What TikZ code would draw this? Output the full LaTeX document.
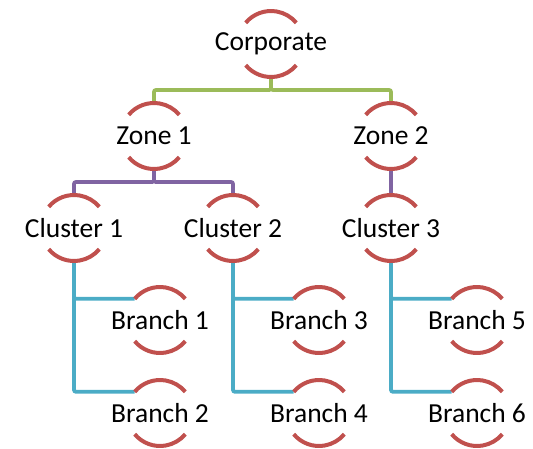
\documentclass[tikz,border=0pt]{standalone}
\usepackage{fontspec}
\setmainfont{Carlito}
\usetikzlibrary{positioning}
\definecolor{arcred}{HTML}{C0504D}
\definecolor{lvlgreen}{HTML}{9BBB59}
\definecolor{lvlpurple}{HTML}{8064A2}
\definecolor{lvlcyan}{HTML}{4BACC6}

\begin{document}
\begin{tikzpicture}[x=1pt,y=1pt,on grid,
    halfcirc/.style={circle,minimum size=66pt,inner sep=0pt,outer sep=0pt},
    every label/.style={font=\fontsize{27.5}{32}\selectfont,inner sep=0pt},
    arcpen/.style={draw=arcred,line width=4pt},
    link/.style={line width=3.8pt,rounded corners=2pt}]
  \useasboundingbox (0,0) rectangle (533,-448);
  \node[halfcirc,label=center:Corporate] (corp) at (271,-44) {};
  \node[halfcirc,label=center:Zone 1,below left=92pt and 117pt of corp] (zoneA) {};
  \node[halfcirc,label=center:Zone 2,below right=92pt and 120pt of corp] (zoneB) {};
  \node[halfcirc,label=center:Cluster 1,below left=92pt and 80pt of zoneA] (clusA) {};
  \node[halfcirc,label=center:Cluster 2,below right=92pt and 79pt of zoneA] (clusB) {};
  \node[halfcirc,label=center:Cluster 3,below=92pt of zoneB] (clusC) {};
  \node[halfcirc,label=center:Branch 1,below right=92pt and 86pt of clusA] (brA) {};
  \node[halfcirc,label=center:Branch 2,below=93pt of brA] (brB) {};
  \node[halfcirc,label=center:Branch 3,below right=92pt and 86pt of clusB] (brC) {};
  \node[halfcirc,label=center:Branch 4,below=93pt of brC] (brD) {};
  \node[halfcirc,label=center:Branch 5,below right=92pt and 86pt of clusC] (brE) {};
  \node[halfcirc,label=center:Branch 6,below=93pt of brE] (brF) {};
  % connectors
  \draw[link,lvlgreen] (corp.south) -- ++(0,-13) -| (zoneA.north);
  \draw[link,lvlgreen] (corp.south) -- ++(0,-13) -| (zoneB.north);
  \draw[link,lvlpurple] (zoneA.south) -- ++(0,-13) -| (clusA.north);
  \draw[link,lvlpurple] (zoneA.south) -- ++(0,-13) -| (clusB.north);
  \draw[link,lvlpurple] (zoneB.south) -- (clusC.north);
  \foreach \c/\u/\l in {clusA/brA/brB,clusB/brC/brD,clusC/brE/brF}{
    \draw[link,lvlcyan] (\c.south) |- (\u.140);
    \draw[link,lvlcyan] (\c.south) |- (\l.140);
  }
  % half circle arcs
  \foreach \n in {corp,zoneA,zoneB,clusA,clusB,clusC,brA,brB,brC,brD,brE,brF}{
    \draw[arcpen] (\n.140) arc[start angle=140,end angle=40,radius=33pt];
    \draw[arcpen] (\n.220) arc[start angle=220,end angle=320,radius=33pt];
  }
\end{tikzpicture}
\end{document}
